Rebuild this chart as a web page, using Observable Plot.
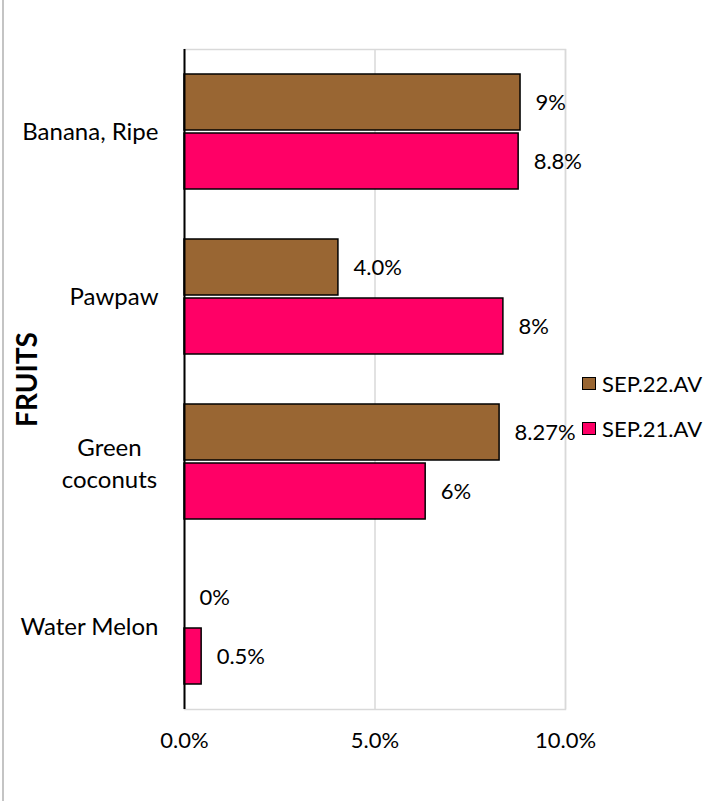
<!DOCTYPE html>
<html>
<head>
<meta charset="utf-8">
<script src="https://cdn.jsdelivr.net/npm/d3@7"></script>
<script src="https://cdn.jsdelivr.net/npm/@observablehq/plot@0.6"></script>
<style>
  body { margin: 0; background: #fff; }
  #wrap { position: relative; width: 703px; height: 801px; overflow: hidden; font-family: Lato, sans-serif; }
  #edge { position: absolute; left: 2px; top: 0; width: 2px; height: 801px; background: #c4c4c4; }
  #legend { position: absolute; left: 582px; top: 361px; font-size: 22px; color: #000; }
  .item { display: flex; align-items: center; height: 45px; white-space: nowrap; }
  .sw { width: 14px; height: 13px; box-sizing: border-box; border: 1.5px solid #000; margin-right: 6px; flex: none; }
</style>
</head>
<body>
<div id="wrap">
  <div id="chart"></div>
  <div id="edge"></div>
  <div id="legend"></div>
</div>
<script>
const fruits = ["Banana, Ripe", "Pawpaw", "Green coconuts", "Water Melon"];
const seriesNames = ["SEP.22.AV", "SEP.21.AV"];
const sep22 = [0.0882, 0.0404, 0.0827, 0.0];
const sep21 = [0.0877, 0.0837, 0.0633, 0.0045];
const labels22 = ["9%", "4.0%", "8.27%", "0%"];
const labels21 = ["8.8%", "8%", "6%", "0.5%"];
const xTicks = [0, 0.05, 0.1];
const colors = ["#996633", "#FF0066"];
const axisTitle = "FRUITS";
const wrapped = ["Green coconuts"];

const data = fruits.flatMap((f, i) => [
  {fruit: f, series: seriesNames[0], value: sep22[i], label: labels22[i]},
  {fruit: f, series: seriesNames[1], value: sep21[i], label: labels21[i]}
]);

const chart = Plot.plot({
  width: 703,
  height: 801,
  marginLeft: 184,
  marginRight: 138,
  marginTop: 48,
  marginBottom: 92,
  style: {fontFamily: "Lato, sans-serif", fontSize: "22px", color: "#000", background: "transparent"},
  x: {domain: [0, 0.1]},
  y: {domain: seriesNames, paddingInner: 0.05, paddingOuter: 0.402, axis: null},
  fy: {domain: fruits, padding: 0},
  color: {domain: seriesNames, range: colors},
  marks: [
    Plot.frame({facet: "super", stroke: "#d9d9d9", strokeWidth: 1.5}),
    Plot.ruleX(xTicks.slice(1), {stroke: "#d9d9d9", strokeWidth: 1.5}),
    Plot.barX(data, {fy: "fruit", y: "series", x: "value", fill: "series", stroke: "#000", strokeWidth: 1.5}),
    Plot.ruleX([0], {stroke: "#000", strokeWidth: 2}),
    Plot.text(data, {fy: "fruit", y: "series", x: "value", text: "label", textAnchor: "start", dx: 15, fill: "#000"}),
    Plot.axisX({ticks: xTicks, tickFormat: d3.format(".1%"), tickSize: 0, tickPadding: 23, label: null}),
    // category labels, one per facet
    Plot.text(fruits.filter(f => !wrapped.includes(f)), {fy: d => d, text: d => d, frameAnchor: "left", dx: -26, textAnchor: "end", fontSize: 24, fill: "#000"}),
    Plot.text(wrapped, {fy: d => d, text: d => d.replace(" ", "\n"), frameAnchor: "left", dx: -75, textAnchor: "middle", fontSize: 24, lineHeight: 1.33, fill: "#000"}),
    Plot.axisFy([], {anchor: "left", tickSize: 0, label: axisTitle, labelAnchor: "center", labelOffset: 167, fontWeight: "bold", fontSize: 28})
  ]
});
document.getElementById("chart").appendChild(chart);

const legend = document.getElementById("legend");
seriesNames.forEach((s, i) => {
  const item = document.createElement("div");
  item.className = "item";
  const sw = document.createElement("div");
  sw.className = "sw";
  sw.style.background = colors[i];
  const t = document.createElement("span");
  t.textContent = s;
  item.appendChild(sw);
  item.appendChild(t);
  legend.appendChild(item);
});
</script>
</body>
</html>
